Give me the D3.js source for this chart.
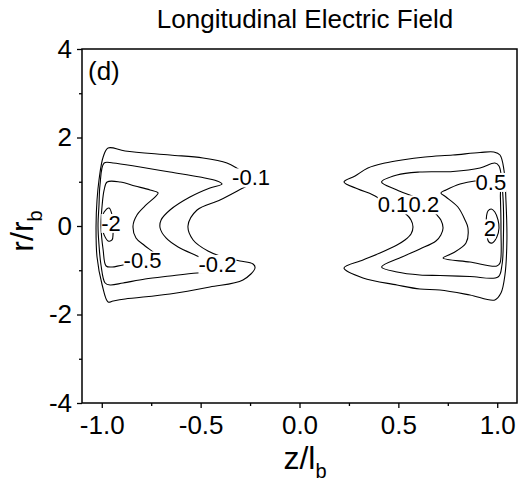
<!DOCTYPE html>
<html><head><meta charset="utf-8">
<script src="https://cdn.jsdelivr.net/npm/d3@7"></script>
<style>
body{margin:0;background:#fff;}
svg{display:block;font-family:"Liberation Sans",Arial,Helvetica,sans-serif;}
</style></head><body>
<svg id="chart" width="522" height="484"></svg>
<script>
// axis ticks
const zMajor = [-1.0, -0.5, 0.0, 0.5, 1.0];
const zMinor = [-0.75, -0.25, 0.25, 0.75];
const rMajor = [-4, -2, 0, 2, 4];
const rMinor = [-3, -1, 1, 3];

// contour levels of the longitudinal field
const levels = [-0.1, -0.2, -0.5, -2, 0.1, 0.2, 0.5, 2];

// traced rings, points as [z/l_b, r/r_b]
const ringM01 = [[-0.968,1.763],[-0.882,1.695],[-0.655,1.605],[-0.488,1.537],[-0.367,1.424],[-0.301,1.266],[-0.210,1.040],[-0.286,0.859],[-0.402,0.588],[-0.518,0.362],[-0.564,0],[-0.538,-0.316],[-0.463,-0.565],[-0.372,-0.723],[-0.301,-0.791],[-0.235,-0.859],[-0.225,-0.949],[-0.286,-1.220],[-0.453,-1.379],[-0.655,-1.537],[-0.882,-1.650],[-0.943,-1.695],[-0.968,-1.718],[-0.998,-1.333],[-1.024,-0.701],[-1.029,0],[-1.024,0.588],[-1.014,1.040],[-0.993,1.559]];
const ringM02 = [[-0.988,1.424],[-0.943,1.424],[-0.806,1.333],[-0.655,1.220],[-0.503,1.107],[-0.417,1.017],[-0.392,0.949],[-0.453,0.859],[-0.554,0.655],[-0.655,0.362],[-0.700,0.136],[-0.705,-0.045],[-0.675,-0.271],[-0.614,-0.475],[-0.528,-0.655],[-0.442,-0.814],[-0.382,-0.927],[-0.442,-1.040],[-0.518,-1.062],[-0.655,-1.130],[-0.781,-1.198],[-0.892,-1.288],[-0.958,-1.333],[-0.983,-1.288],[-1.004,-0.881],[-1.014,-0.429],[-1.019,0],[-1.014,0.475],[-1.009,0.927]];
const ringM05 = [[-0.973,0.994],[-0.907,0.994],[-0.832,0.904],[-0.756,0.814],[-0.715,0.746],[-0.731,0.655],[-0.776,0.475],[-0.822,0.249],[-0.842,0],[-0.827,-0.271],[-0.781,-0.452],[-0.725,-0.678],[-0.766,-0.859],[-0.892,-0.881],[-0.948,-0.927],[-0.978,-0.904],[-0.993,-0.542],[-1.004,0],[-0.998,0.475],[-0.988,0.814]];
const ringM2 = [[-0.963,0.407],[-0.988,0.316],[-1.001,0.136],[-0.998,-0.045],[-0.988,-0.203],[-0.968,-0.339],[-0.948,-0.316],[-0.943,-0.181],[-0.943,0.023],[-0.948,0.249]];
const ringP01 = [[0.225,0.994],[0.281,1.130],[0.346,1.311],[0.432,1.424],[0.518,1.492],[0.635,1.559],[0.776,1.605],[0.913,1.661],[0.983,1.672],[1.014,1.605],[1.034,1.266],[1.044,0.588],[1.049,-0.316],[1.039,-1.107],[1.019,-1.514],[0.988,-1.672],[0.862,-1.559],[0.710,-1.446],[0.609,-1.424],[0.493,-1.333],[0.321,-1.175],[0.225,-0.949],[0.321,-0.768],[0.407,-0.610],[0.493,-0.429],[0.533,-0.316],[0.564,-0.181],[0.574,-0.023],[0.564,0.136],[0.538,0.271],[0.458,0.475],[0.372,0.701],[0.296,0.836]];
const ringP02 = [[0.415,0.994],[0.493,1.153],[0.609,1.220],[0.776,1.232],[0.913,1.311],[0.988,1.424],[1.009,1.356],[1.029,0.655],[1.031,-0.316],[1.024,-0.881],[1.004,-1.153],[0.862,-1.141],[0.710,-1.119],[0.609,-1.107],[0.493,-1.040],[0.415,-0.927],[0.518,-0.701],[0.609,-0.520],[0.690,-0.339],[0.715,-0.203],[0.726,-0.045],[0.715,0.136],[0.695,0.249],[0.609,0.588],[0.493,0.814]];
const ringP05 = [[0.887,1.017],[0.812,0.949],[0.741,0.814],[0.715,0.746],[0.741,0.655],[0.801,0.429],[0.837,0.136],[0.852,-0.045],[0.842,-0.384],[0.776,-0.610],[0.726,-0.723],[0.862,-0.814],[0.998,-0.904],[1.014,-0.836],[1.019,-0.090],[1.016,0.655],[1.014,0.859],[0.988,1.017]];
const ringP2 = [[0.953,0.339],[0.970,0.384],[0.988,0.316],[1.004,0.136],[1.009,-0.045],[0.998,-0.249],[0.975,-0.384],[0.958,-0.362],[0.948,-0.226],[0.944,0.023],[0.946,0.226]];
const rings = [ringM01, ringM02, ringM05, ringM2, ringP01, ringP02, ringP05, ringP2];

// inline label anchor on each ring, [z/l_b, r/r_b]
const labelAt = [[-0.245,1.096],[-0.415,-0.859],[-0.794,-0.780],[-0.953,0.068],[0.473,0.486],[0.629,0.486],[0.968,0.994],[0.963,-0.056]];

const svg = d3.select("#chart");
const M = {left: 82, top: 49, right: 5, bottom: 81};
const W = 522 - M.left - M.right, H = 484 - M.top - M.bottom;

const x = d3.scaleLinear().domain([-1.1, 1.1]).range([0, W]);
const y = d3.scaleLinear().domain([-4, 4]).range([H, 0]);

const g = svg.append("g").attr("transform", `translate(${M.left},${M.top})`);

// contour rings
const ringLine = d3.line()
  .x(d => x(d[0])).y(d => y(d[1]))
  .curve(d3.curveCatmullRomClosed.alpha(0.5));

g.append("g").selectAll("path").data(rings).join("path")
  .attr("d", ringLine)
  .attr("fill", "none").attr("stroke", "#000").attr("stroke-width", 1.1);

// inline level labels with a knockout behind each
const lab = g.append("g").selectAll("g").data(levels).join("g")
  .attr("transform", (d, i) => `translate(${x(labelAt[i][0])},${y(labelAt[i][1])})`);
lab.append("text")
  .attr("text-anchor", "middle").attr("dy", "0.36em")
  .attr("font-size", 22).attr("fill", "#000")
  .text(d => String(d));
lab.each(function () {
  const t = d3.select(this).select("text");
  const b = t.node().getBBox();
  d3.select(this).insert("rect", "text")
    .attr("x", b.x).attr("y", b.y + 3).attr("width", b.width).attr("height", b.height - 6)
    .attr("fill", "#fff");
});

// axes
const fmtZ = d => d.toFixed(1);
const fmtR = d => String(d);

g.append("g").attr("transform", `translate(0,${H})`)
  .call(d3.axisBottom(x).tickValues(zMajor).tickFormat(fmtZ).tickSize(5).tickPadding(8).tickSizeOuter(0));
g.append("g").attr("transform", `translate(0,${H})`)
  .call(d3.axisBottom(x).tickValues(zMinor).tickFormat("").tickSize(3).tickSizeOuter(0));
g.append("g")
  .call(d3.axisLeft(y).tickValues(rMajor).tickFormat(fmtR).tickSize(5).tickPadding(5).tickSizeOuter(0));
g.append("g")
  .call(d3.axisLeft(y).tickValues(rMinor).tickFormat("").tickSize(3).tickSizeOuter(0));

g.selectAll(".domain").remove();
g.selectAll(".tick line").attr("stroke", "#000").attr("stroke-width", 1.3);
g.selectAll(".tick text").attr("font-size", 26).attr("fill", "#000")
  .attr("font-family", "Liberation Sans, Arial, sans-serif");

// frame
g.append("rect").attr("width", W).attr("height", H)
  .attr("fill", "none").attr("stroke", "#000").attr("stroke-width", 1.5);

// panel tag
g.append("text").attr("x", 6).attr("y", 31).attr("font-size", 26).text("(d)");

// title
svg.append("text").attr("x", 305).attr("y", 28).attr("text-anchor", "middle")
  .attr("font-size", 26).text("Longitudinal Electric Field");

// axis titles
const xt = svg.append("text").attr("x", 305).attr("y", 469).attr("text-anchor", "middle").attr("font-size", 32);
xt.append("tspan").text("z/l");
xt.append("tspan").attr("font-size", 20).attr("dy", 9).text("b");

const yt = svg.append("text").attr("transform", "translate(33,231) rotate(-90)")
  .attr("text-anchor", "middle").attr("font-size", 32);
yt.append("tspan").text("r/r");
yt.append("tspan").attr("font-size", 20).attr("dy", 9).text("b");
</script>
</body></html>
